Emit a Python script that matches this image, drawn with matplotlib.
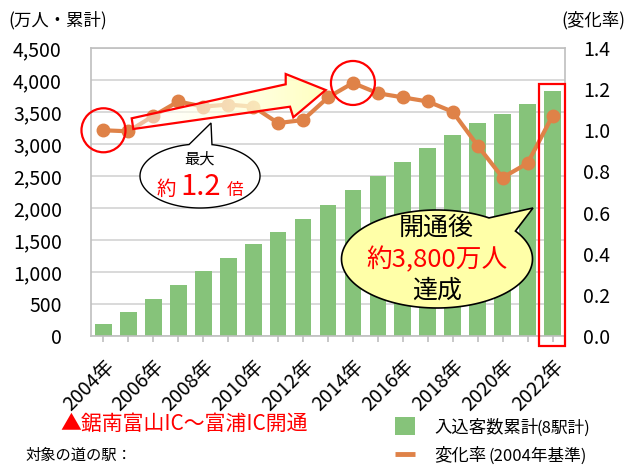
import numpy as np
import matplotlib
matplotlib.use("Agg")
import matplotlib.pyplot as plt
from matplotlib.patches import Rectangle, Circle, Polygon

plt.rcParams['font.family'] = ['Noto Sans CJK JP', 'DejaVu Sans']

# ---------------------------------------------------------------------------
# data
# ---------------------------------------------------------------------------
years = list(range(2004, 2023))
visitors = [190, 375, 580, 790, 1010, 1220, 1430, 1625, 1830, 2040,
            2275, 2505, 2725, 2945, 3140, 3325, 3470, 3625, 3835]   # 万人・累計
rate = [1.00, 0.995, 1.07, 1.14, 1.115, 1.125, 1.115, 1.035, 1.05, 1.16,
        1.23, 1.18, 1.16, 1.14, 1.09, 0.925, 0.77, 0.84, 1.07]      # 2004年基準
left_ticks = [0, 500, 1000, 1500, 2000, 2500, 3000, 3500, 4000, 4500]
right_ticks = [0.0, 0.2, 0.4, 0.6, 0.8, 1.0, 1.2, 1.4]
year_labels = [f"{y}年" if (y - 2004) % 2 == 0 else "" for y in years]

GREEN = "#86C37A"
ORANGE = "#DF8248"
RED = "#FF0000"
GRID = "#D9D9D9"
FRAME = "#BFBFBF"

W, H = 627, 466
fig = plt.figure(figsize=(W / 100, H / 100), dpi=100)

# ---------------------------------------------------------------------------
# main axes
# ---------------------------------------------------------------------------
ax = fig.add_axes([91 / W, 1 - 336 / H, (565 - 91) / W, (336 - 48) / H])
x = np.arange(len(years))
ax.bar(x, visitors, width=0.67, color=GREEN, zorder=2)
ax.set_xlim(-0.5, len(years) - 0.5)
ax.set_ylim(0, 4500)
ax.set_yticks(left_ticks)
ax.set_yticklabels([f"{v:,}" for v in left_ticks])
ax.tick_params(axis='y', length=0, pad=21, labelsize=14)
ax.set_xticks(x)
ax.set_xticklabels(year_labels, rotation=45, ha='right', va='top',
                   rotation_mode='anchor', fontsize=14)
ax.tick_params(axis='x', length=4, width=1.2, color=FRAME, pad=10)
ax.grid(axis='y', color=GRID, lw=1.4, zorder=0)
ax.set_axisbelow(True)
for s in ax.spines.values():
    s.set_color(FRAME)
    s.set_linewidth(1.2)

ax2 = ax.twinx()
ax2.plot(x, rate, color=ORANGE, lw=3, marker='o', ms=9, zorder=3)
ax2.set_ylim(0, 1.4)
ax2.set_yticks(right_ticks)
ax2.set_yticklabels([f"{v:.1f}" for v in right_ticks])
ax2.tick_params(axis='y', length=0, pad=13, labelsize=14)
for s in ax2.spines.values():
    s.set_visible(False)

fig.text(8 / W, 1 - 20 / H, "(万人・累計)", fontsize=12.5, va='center', ha='left')
fig.text(625 / W, 1 - 20 / H, "(変化率)", fontsize=12.5, va='center', ha='right')

# ---------------------------------------------------------------------------
# overlay in pixel coordinates for the annotations
# ---------------------------------------------------------------------------
ov = fig.add_axes([0, 0, 1, 1])
ov.set_xlim(0, W)
ov.set_ylim(H, 0)
ov.axis('off')
ov.set_zorder(10)


def to_px(axis, xv, yv):
    d = axis.transData.transform((xv, yv))
    return d[0], H - d[1]


def callout(cx, cy, a, b, t1, t2, tip, **kw):
    t = np.radians(np.linspace(t1, t2 + 360, 200))
    pts = np.column_stack([cx + a * np.cos(t), cy - b * np.sin(t)])
    pts = np.vstack([pts, tip])
    ov.add_patch(Polygon(pts, closed=True, **kw))


# arrow with gradient fill
arrow_pts = [(131.7, 118.3), (285.7, 84.3), (285.7, 74), (325.7, 90),
             (293.3, 117.3), (290, 106.7), (133.3, 129)]
arrow = Polygon(arrow_pts, closed=True, fc='none', ec=RED, lw=1.6, zorder=5)
ov.add_patch(arrow)
grad = np.zeros((2, 256, 4))
f = np.linspace(0, 1, 256)
grad[..., 0] = 1.0
grad[..., 1] = 1.0
grad[..., 2] = 1.0 - 0.25 * f
grad[..., 3] = 0.45 + 0.55 * f
clip = Polygon(arrow_pts, closed=True, transform=ov.transData)
im = ov.imshow(grad, extent=[131, 326, 129, 74], aspect='auto', zorder=4,
               interpolation='bilinear')
im.set_clip_path(clip)
ov.set_xlim(0, W)
ov.set_ylim(H, 0)

# circles on start and peak
for i in (0, int(np.argmax(rate))):
    cx, cy = to_px(ax2, x[i], rate[i])
    ov.add_patch(Circle((cx, cy), 22, fc='none', ec=RED, lw=1.6, zorder=6))

# "最大 約1.2倍" callout
callout(200, 176, 60, 32, 100.5, 78.5, (211, 123), fc='white', ec='black',
        lw=1.0, zorder=6)
ov.text(200, 159, "最大", fontsize=11, ha='center', va='center', zorder=7)
ov.text(157, 195, "約", fontsize=14, color=RED, ha='left', va='baseline', zorder=7)
ov.text(201, 195, "1.2", fontsize=21, color=RED, ha='center', va='baseline', zorder=7)
ov.text(227, 195, "倍", fontsize=12, color=RED, ha='left', va='baseline', zorder=7)

# "開通後 約3,800万人 達成" speech bubble
callout(437, 259, 95.5, 49, 57, 34.8, (533, 208), fc='#FFFFA8', ec='black',
        lw=1.2, zorder=6)
ov.text(436, 228, "開通後", fontsize=18, ha='center', va='center', zorder=7)
ov.text(437, 260, "約3,800万人", fontsize=18.5, color=RED, ha='center',
        va='center', zorder=7)
ov.text(437, 291, "達成", fontsize=18, ha='center', va='center', zorder=7)

# red box around the latest bar
ov.add_patch(Rectangle((539, 84), 26, 262, fc='none', ec=RED, lw=1.6, zorder=6))

# bottom notes
ov.text(60, 424, "▲鋸南富山IC～富浦IC開通", fontsize=15, color=RED,
        ha='left', va='center')
ov.text(25, 464, "対象の道の駅：", fontsize=11, ha='left', va='bottom')

# legend
ov.add_patch(Rectangle((395, 417), 20, 18, fc=GREEN, ec='none'))
ov.plot([395, 415], [454, 454], color=ORANGE, lw=3.5, solid_capstyle='butt')
ov.text(434, 427, "入込客数累計", fontsize=12.5, ha='left', va='center')
ov.text(536, 428, "(8駅計)", fontsize=12, ha='left', va='center')
ov.text(434, 455, "変化率", fontsize=12.5, ha='left', va='center')
ov.text(488, 456, "(2004年基準)", fontsize=12, ha='left', va='center')

fig.savefig("out.png", dpi=100)
